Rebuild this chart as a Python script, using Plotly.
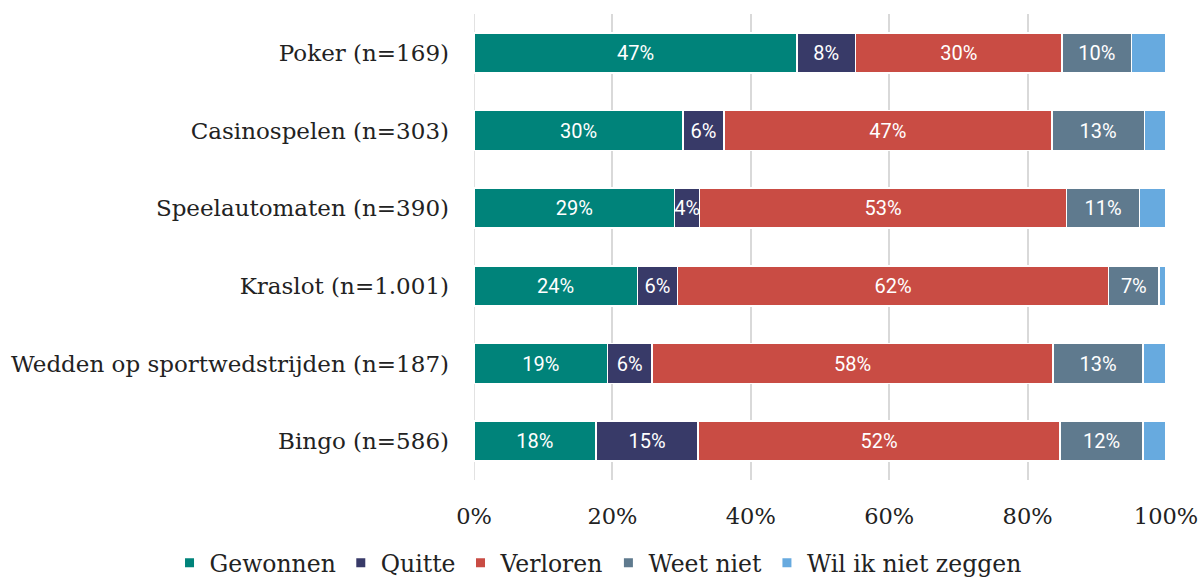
import plotly.graph_objects as go

categories = ["Poker (n=169)", "Casinospelen (n=303)", "Speelautomaten (n=390)",
              "Kraslot (n=1.001)", "Wedden op sportwedstrijden (n=187)", "Bingo (n=586)"]
series_names = ["Gewonnen", "Quitte", "Verloren", "Weet niet", "Wil ik niet zeggen"]
gewonnen = [46.7, 30.2, 29.0, 23.6, 19.3, 17.6]
quitte = [8.4, 5.9, 3.6, 5.8, 6.4, 14.8]
verloren = [29.9, 47.4, 53.0, 62.3, 58.0, 52.3]
weet_niet = [10.0, 13.4, 10.6, 7.3, 13.0, 12.0]
wil_niet = [5.0, 3.1, 3.8, 1.0, 3.3, 3.3]
show_label = [True, True, True, True, False]
colors = ["#00837A", "#383A68", "#C94C44", "#5F7A8E", "#67AADF"]
x_ticks = [0, 20, 40, 60, 80, 100]

fig = go.Figure()
for name, vals, col, lab in zip(series_names,
                                [gewonnen, quitte, verloren, weet_niet, wil_niet],
                                colors, show_label):
    fig.add_trace(go.Bar(
        y=categories, x=vals, name=name, orientation="h", showlegend=False,
        marker=dict(color=col, line=dict(color="white", width=1.5)),
        text=[f"{round(v)}%" for v in vals] if lab else None,
        textposition="inside", insidetextanchor="middle", textangle=0,
        constraintext="none",
        textfont=dict(family="Roboto", size=20, color="white"),
        hoverinfo="skip",
    ))
# legend entries with small square symbols
for name, col in zip(series_names, colors):
    fig.add_trace(go.Scatter(
        x=[None], y=[None], mode="markers", name=name,
        marker=dict(symbol="square", size=9, color=col),
        hoverinfo="skip",
    ))

fig.update_layout(
    barmode="stack", bargap=0.485,
    width=1201, height=577,
    margin=dict(l=474, r=35, t=14, b=97, autoexpand=False),
    plot_bgcolor="white", paper_bgcolor="white",
    font=dict(family="DejaVu Serif", size=22, color="#222222"),
    legend=dict(orientation="h", x=-0.44, xanchor="left", y=-0.178, yanchor="middle",
                font=dict(family="DejaVu Serif", size=23.5, color="#222222"),
                traceorder="normal", itemwidth=30),
    xaxis=dict(range=[0, 100], tickvals=x_ticks, ticktext=[f"{t}%" for t in x_ticks],
               showgrid=True, gridcolor="#D9D9D9", gridwidth=1.5, automargin=False,
               zeroline=False, showline=False, ticks="", ticklabelstandoff=20,
               tickfont=dict(family="DejaVu Serif", size=22.5, color="#222222")),
    yaxis=dict(categoryorder="array", categoryarray=categories, autorange="reversed",
               ticks="", showline=False, ticklabelstandoff=24, automargin=False,
               tickfont=dict(family="DejaVu Serif", size=23, color="#222222")),
)
fig.add_shape(type="line", xref="x", yref="paper", x0=0, x1=0, y0=0, y1=1,
              line=dict(color="#D9D9D9", width=1.5), layer="below")

fig.write_html("out.html", config={"displayModeBar": False},
               post_script="document.body.style.margin='0';")
